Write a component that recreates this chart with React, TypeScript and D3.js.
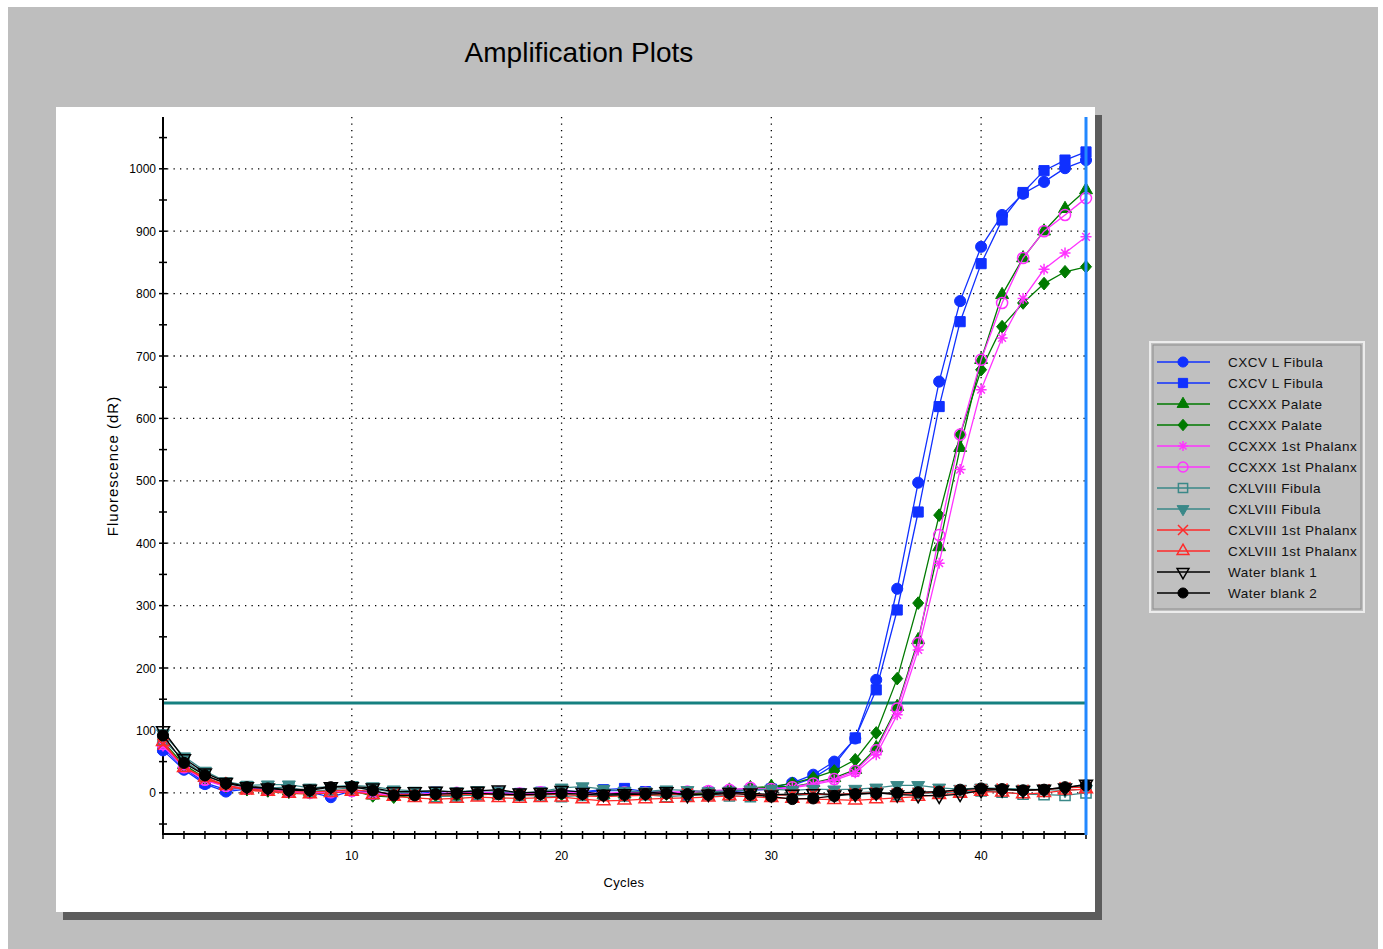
import * as d3 from "d3";
import { useEffect, useRef } from "react";

// cycle numbers on the x axis
const cycles = d3.range(1, 46);
const xTickLabels = [10, 20, 30, 40];
const yTickLabels = [0, 100, 200, 300, 400, 500, 600, 700, 800, 900, 1000];
const threshold = 144;

const cxcvFibula1 = [68, 37, 14, 2, 6, 4, 2, 1, -7, 3, 2, -3, -2, -1, -2, 0, 1, -2, 0, 2, 1, 3, 4, -1, 1, -4, 0, 3, 5, 8, 16, 29, 50, 87, 181, 327, 497, 659, 788, 875, 926, 960, 979, 1001, 1014];
const cxcvFibula2 = [72, 40, 16, 5, 8, 5, 3, 2, 0, 4, 2, -2, -1, 1, -3, 1, 0, -1, 1, 3, 2, 5, 7, 2, 0, -2, 1, 2, 4, 6, 12, 24, 45, 88, 165, 293, 450, 619, 755, 848, 918, 962, 997, 1014, 1027];
const ccxxxPalate1 = [82, 45, 24, 12, 6, 5, 3, 2, 3, 4, -4, -6, -3, -5, -4, -2, -3, -4, -2, -1, 0, -3, -2, -4, -3, -2, 0, 4, 8, 10, 10, 16, 24, 37, 72, 138, 245, 394, 553, 694, 798, 857, 900, 936, 966];
const ccxxxPalate2 = [80, 42, 22, 10, 5, 3, 1, 0, 2, 3, -5, -7, -4, -4, -5, -3, -2, -3, -1, -2, -1, -2, -1, -3, -2, -1, 1, 3, 5, 10, 15, 24, 35, 53, 96, 183, 304, 445, 574, 678, 747, 785, 816, 835, 843];
const ccxxxPhalanx1 = [75, 40, 20, 10, 6, 4, 2, -1, 0, 2, -2, -4, -3, -2, -1, 0, -1, -2, 0, 1, -1, -2, 0, -1, 0, 1, 2, 4, 6, 5, 8, 13, 20, 32, 61, 125, 229, 368, 518, 646, 729, 792, 839, 865, 891];
const ccxxxPhalanx2 = [78, 41, 21, 11, 7, 5, 3, 0, 1, 3, -1, -3, -2, -1, 0, 1, 0, -1, 1, 2, 0, -1, 1, 0, 1, 2, 3, 5, 8, 6, 9, 15, 22, 35, 68, 135, 240, 413, 574, 694, 785, 857, 900, 926, 953];
const cxlviiiFibula1 = [85, 52, 28, 15, 10, 8, 9, 2, 5, 8, 6, 1, 0, -6, -5, -3, -2, -4, -5, -6, -4, -2, -5, -3, -6, -4, -3, -5, -6, -3, -5, -2, -4, 0, 2, -3, -1, 0, 2, 3, 1, -2, -3, -4, 0];
const cxlviiiFibula2 = [95, 58, 35, 18, 12, 13, 13, 8, 10, 12, 10, 5, 3, 3, 2, 4, 3, 0, 2, 8, 10, 6, 3, 2, 5, 4, 2, 3, 5, 6, 4, 6, 5, 6, 8, 12, 12, 8, 6, 8, 7, 6, 5, 4, 6];
const cxlviiiPhalanx1 = [78, 42, 22, 12, 6, 4, 2, 1, 3, 5, 2, -2, -3, -4, -3, -2, -3, -4, -3, -2, -5, -6, -5, -4, -3, -2, -3, -1, -2, -4, -3, -2, -3, -1, 0, -2, -1, 2, 3, 5, 6, 4, 5, 8, 9];
const cxlviiiPhalanx2 = [82, 40, 25, 12, 4, 2, -1, -2, 0, 2, -3, -6, -8, -10, -9, -7, -8, -9, -8, -7, -10, -13, -12, -10, -9, -8, -7, -5, -6, -8, -9, -10, -11, -12, -10, -8, -6, -3, -1, 2, 1, -2, 0, 4, 6];
const waterBlank1 = [100, 55, 32, 17, 10, 8, 5, 6, 10, 10, 8, 2, 2, 3, 1, 3, 5, 0, 1, 4, 1, -2, -1, 0, 2, -4, -2, 1, 0, -3, -2, -1, -3, -2, 0, -3, -4, -5, -2, 4, 5, 4, 6, 8, 14];
const waterBlank2 = [92, 48, 28, 15, 9, 7, 4, 4, 9, 10, 4, -4, -4, -2, -1, -1, -2, -3, -2, -1, -2, -4, -3, -2, -1, -2, -3, -1, -3, -6, -10, -9, -5, -2, -1, 0, 1, 2, 5, 7, 6, 4, 5, 9, 12];

const seriesNames = [
  "CXCV L Fibula", "CXCV L Fibula", "CCXXX Palate", "CCXXX Palate",
  "CCXXX 1st Phalanx", "CCXXX 1st Phalanx", "CXLVIII Fibula", "CXLVIII Fibula",
  "CXLVIII 1st Phalanx", "CXLVIII 1st Phalanx", "Water blank 1", "Water blank 2",
];
const seriesValues = [
  cxcvFibula1, cxcvFibula2, ccxxxPalate1, ccxxxPalate2,
  ccxxxPhalanx1, ccxxxPhalanx2, cxlviiiFibula1, cxlviiiFibula2,
  cxlviiiPhalanx1, cxlviiiPhalanx2, waterBlank1, waterBlank2,
];
const seriesColors = [
  "#1030ff", "#1030ff", "#007a00", "#007a00", "#ff33ff", "#ff33ff",
  "#3a8888", "#3a8888", "#ff2a2a", "#ff2a2a", "#000000", "#000000",
];
const seriesMarkers = [
  "circle", "square", "triangle", "diamond", "asterisk", "openCircle",
  "openSquare", "triangleDown", "cross", "openTriangle", "openTriangleDown", "circle",
];

const markerPath = (kind: string, s: number) => {
  const r = s / 2;
  switch (kind) {
    case "circle":
    case "openCircle":
      return d3.symbol().type(d3.symbolCircle).size(s * s * 0.8)()!;
    case "square":
    case "openSquare":
      return d3.symbol().type(d3.symbolSquare).size(s * s * 0.85)()!;
    case "triangle":
    case "openTriangle":
    case "triangleDown":
    case "openTriangleDown":
      return d3.symbol().type(d3.symbolTriangle).size(s * s * 0.6)()!;
    case "diamond":
      return `M0,${-r * 1.15}L${r},0L0,${r * 1.15}L${-r},0Z`;
    case "asterisk":
      return `M0,${-r}V${r}M${-r},0H${r}M${-r * 0.7},${-r * 0.7}L${r * 0.7},${r * 0.7}M${-r * 0.7},${r * 0.7}L${r * 0.7},${-r * 0.7}`;
    case "cross":
      return `M${-r},${-r}L${r},${r}M${-r},${r}L${r},${-r}`;
  }
  return "";
};

const drawMarkers = (g: d3.Selection<SVGGElement, unknown, null, undefined>, kind: string, color: string, pts: [number, number][], s: number) => {
  const open = kind.startsWith("open") || kind === "asterisk" || kind === "cross";
  const rot = kind === "triangleDown" || kind === "openTriangleDown" ? " rotate(180)" : "";
  g.selectAll(null)
    .data(pts)
    .join("path")
    .attr("transform", (d) => `translate(${d[0]},${d[1]})${rot}`)
    .attr("d", markerPath(kind, s))
    .attr("fill", open ? "none" : color)
    .attr("stroke", color)
    .attr("stroke-width", open ? 1.5 : 1);
};

export default function App() {
  const ref = useRef<SVGSVGElement>(null);

  useEffect(() => {
    const svg = d3.select(ref.current);
    svg.selectAll("*").remove();
    const root = svg.append("g");
    const font = "'Liberation Sans', Arial, sans-serif";

    // window background
    root.append("rect").attr("x", 8).attr("y", 7).attr("width", 1370).attr("height", 942).attr("fill", "#bebebe");

    root.append("text")
      .attr("x", 579).attr("y", 62)
      .attr("text-anchor", "middle")
      .attr("font-family", font).attr("font-size", 28)
      .attr("fill", "#000")
      .text("Amplification Plots");

    // plot panel + shadow
    root.append("rect").attr("x", 63).attr("y", 115).attr("width", 1039).attr("height", 805).attr("fill", "#5c5c5c");
    root.append("rect").attr("x", 56).attr("y", 107).attr("width", 1039).attr("height", 805).attr("fill", "#ffffff");

    const x = d3.scaleLinear().domain([1, 45]).range([163, 1086]);
    const y = d3.scaleLinear().domain([-66, 1083]).range([834, 117]);

    // dotted grid
    const grid = root.append("g").attr("stroke", "#000").attr("stroke-width", 1.3).attr("stroke-dasharray", "1.3 5.2");
    grid.selectAll(null).data(xTickLabels).join("line")
      .attr("x1", (d) => x(d)).attr("x2", (d) => x(d)).attr("y1", 117).attr("y2", 834);
    grid.selectAll(null).data(yTickLabels).join("line")
      .attr("x1", x(1) + 4).attr("x2", x(45)).attr("y1", (d) => y(d)).attr("y2", (d) => y(d));

    // threshold line
    root.append("line").attr("x1", x(1)).attr("x2", x(45)).attr("y1", y(threshold)).attr("y2", y(threshold))
      .attr("stroke", "#168080").attr("stroke-width", 3);

    // axes
    const ax = root.append("g").attr("stroke", "#000");
    ax.append("line").attr("x1", x(1)).attr("x2", x(1)).attr("y1", 117).attr("y2", 835).attr("stroke-width", 2);
    ax.append("line").attr("x1", x(1)).attr("x2", x(45)).attr("y1", 834).attr("y2", 834).attr("stroke-width", 2);
    const yMinor = d3.range(-50, 1051, 50);
    ax.selectAll(null).data(yMinor).join("line")
      .attr("x1", x(1) - 4).attr("x2", x(1) + 4).attr("y1", (d) => y(d)).attr("y2", (d) => y(d)).attr("stroke-width", 1.5);
    ax.selectAll(null).data(cycles).join("line")
      .attr("x1", (d) => x(d)).attr("x2", (d) => x(d)).attr("y1", 831).attr("y2", 839).attr("stroke-width", 1.5);

    root.append("g").attr("font-family", font).attr("font-size", 12).attr("text-anchor", "end")
      .selectAll(null).data(yTickLabels).join("text")
      .attr("x", x(1) - 7).attr("y", (d) => y(d) + 4.5).text((d) => d);
    root.append("g").attr("font-family", font).attr("font-size", 12).attr("text-anchor", "middle")
      .selectAll(null).data(xTickLabels).join("text")
      .attr("x", (d) => x(d)).attr("y", 860).text((d) => d);

    root.append("text").attr("x", 624).attr("y", 887).attr("text-anchor", "middle")
      .attr("font-family", font).attr("font-size", 13).attr("letter-spacing", 0.3).text("Cycles");
    root.append("text").attr("transform", "translate(118,466) rotate(-90)").attr("text-anchor", "middle")
      .attr("font-family", font).attr("font-size", 15).attr("letter-spacing", 1).text("Fluorescence (dR)");

    // series
    const line = d3.line<number>().x((_, i) => x(cycles[i])).y((d) => y(d));
    seriesValues.forEach((vals, i) => {
      const g = root.append("g");
      g.append("path").attr("d", line(vals)).attr("fill", "none")
        .attr("stroke", seriesColors[i]).attr("stroke-width", 1.3);
      drawMarkers(g, seriesMarkers[i], seriesColors[i], vals.map((v, j) => [x(cycles[j]), y(v)]), 11);
    });

    // current-cycle marker
    root.append("line").attr("x1", x(45)).attr("x2", x(45)).attr("y1", 117).attr("y2", 835)
      .attr("stroke", "#2288ff").attr("stroke-width", 3);

    // legend
    const lg = root.append("g");
    lg.append("rect").attr("x", 1150).attr("y", 342).attr("width", 214).attr("height", 270)
      .attr("fill", "#c0c0c0").attr("stroke", "#ececec").attr("stroke-width", 2);
    lg.append("rect").attr("x", 1153).attr("y", 345).attr("width", 208).attr("height", 264)
      .attr("fill", "none").attr("stroke", "#8c8c8c").attr("stroke-width", 1);
    seriesNames.forEach((name, i) => {
      const ly = 362 + i * 21;
      const row = lg.append("g");
      row.append("line").attr("x1", 1157).attr("x2", 1210).attr("y1", ly).attr("y2", ly)
        .attr("stroke", seriesColors[i]).attr("stroke-width", 1.5);
      drawMarkers(row, seriesMarkers[i], seriesColors[i], [[1183, ly]], 10);
      row.append("text").attr("x", 1228).attr("y", ly + 5).attr("font-family", font).attr("font-size", 13.5)
        .attr("letter-spacing", 0.5).attr("fill", "#111").text(name);
    });
  }, []);

  return (
    <svg
      ref={ref}
      width={1383}
      height={949}
      style={{ display: "block", position: "absolute", left: 0, top: 0 }}
    />
  );
}
